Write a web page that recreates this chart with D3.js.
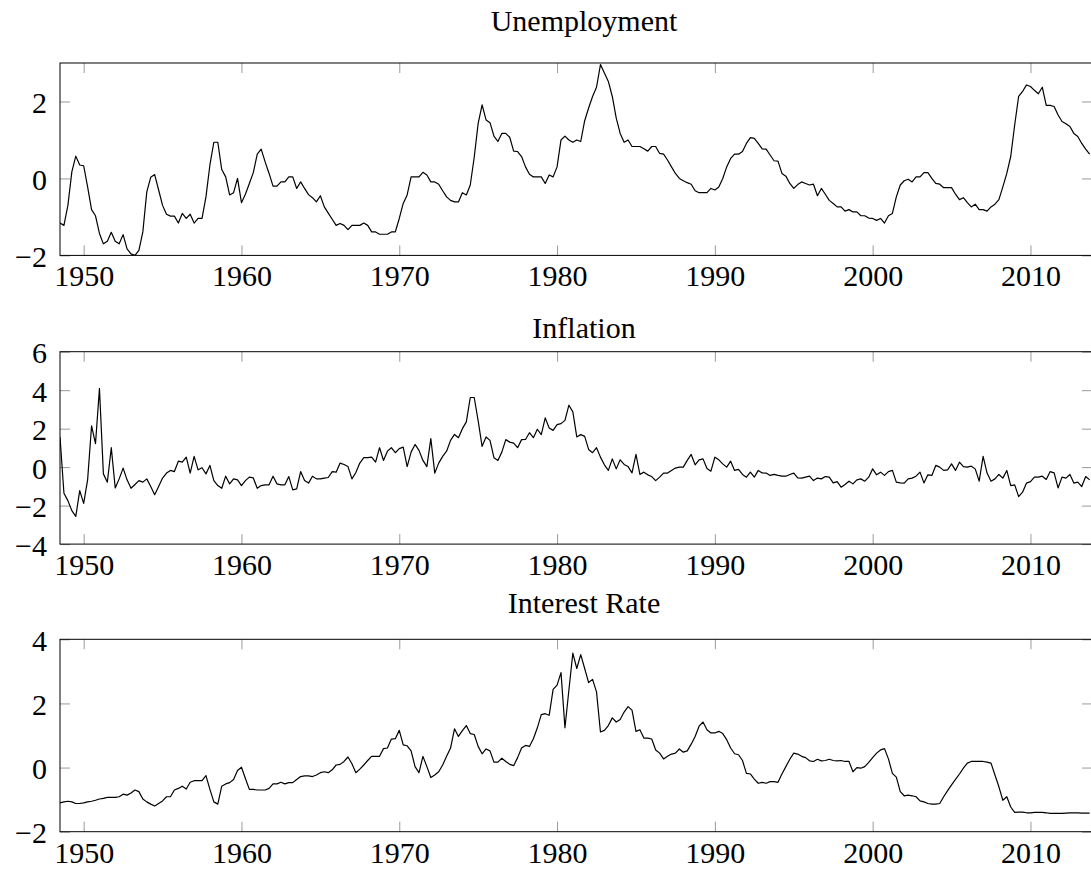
<!DOCTYPE html>
<html lang="en">
<head>
<meta charset="UTF-8">
<title>Unemployment, Inflation, Interest Rate</title>
<script src="https://d3js.org/d3.v7.min.js"></script>
<style>
  body { margin: 0; background: #fff; }
  svg { display: block; font-family: "Liberation Serif", "DejaVu Serif", serif; }
</style>
</head>
<body>
<div id="chart"></div>
<script>
// Quartalsdaten ab 1948.5 (Schritt 0.25 Jahre)
const startYear = 1948.5;

const unemployment = [
  -1.16, -1.22,
  -0.70, 0.17, 0.58, 0.35,
  0.33, -0.22, -0.81, -0.97,
  -1.43, -1.70, -1.63, -1.40,
  -1.63, -1.70, -1.46, -1.83,
  -1.96, -2.00, -1.87, -1.39,
  -0.35, 0.03, 0.10, -0.30,
  -0.70, -0.93, -0.98, -0.98,
  -1.16, -0.91, -1.04, -0.93,
  -1.16, -1.04, -1.04, -0.48,
  0.35, 0.94, 0.94, 0.23,
  0.04, -0.43, -0.37, 0.00,
  -0.63, -0.41, -0.13, 0.15,
  0.63, 0.76, 0.43, 0.13,
  -0.20, -0.20, -0.09, -0.09,
  0.04, 0.04, -0.26, -0.09,
  -0.26, -0.42, -0.50, -0.61,
  -0.45, -0.74, -0.90, -1.06,
  -1.22, -1.17, -1.22, -1.33,
  -1.22, -1.22, -1.22, -1.16,
  -1.22, -1.39, -1.39, -1.45,
  -1.45, -1.45, -1.39, -1.39,
  -1.04, -0.65, -0.43, 0.04,
  0.04, 0.04, 0.16, 0.09,
  -0.09, -0.09, -0.15, -0.32,
  -0.48, -0.57, -0.61, -0.61,
  -0.37, -0.43, -0.17, 0.55,
  1.43, 1.91, 1.52, 1.45,
  1.10, 0.96, 1.17, 1.17,
  1.07, 0.71, 0.70, 0.57,
  0.30, 0.11, 0.04, 0.04,
  0.04, -0.13, 0.09, 0.04,
  0.30, 1.00, 1.10, 1.00,
  0.94, 1.00, 0.96, 1.50,
  1.83, 2.13, 2.37, 2.96,
  2.74, 2.52, 2.13, 1.57,
  1.17, 0.94, 1.00, 0.83,
  0.83, 0.83, 0.77, 0.71,
  0.83, 0.83, 0.65, 0.63,
  0.48, 0.30, 0.13, 0.00,
  -0.06, -0.11, -0.15, -0.32,
  -0.37, -0.37, -0.37, -0.26,
  -0.30, -0.22, 0.00, 0.30,
  0.52, 0.63, 0.63, 0.70,
  0.91, 1.06, 1.04, 0.91,
  0.77, 0.76, 0.61, 0.46,
  0.45, 0.13, 0.06, -0.13,
  -0.26, -0.16, -0.09, -0.13,
  -0.17, -0.15, -0.45, -0.26,
  -0.41, -0.57, -0.65, -0.74,
  -0.74, -0.85, -0.81, -0.87,
  -0.87, -0.97, -0.97, -1.03,
  -1.04, -1.09, -1.04, -1.16,
  -0.97, -0.91, -0.48, -0.17,
  -0.06, -0.02, -0.09, 0.04,
  0.04, 0.15, 0.15, 0.00,
  -0.13, -0.15, -0.24, -0.24,
  -0.24, -0.41, -0.55, -0.50,
  -0.63, -0.74, -0.67, -0.81,
  -0.81, -0.85, -0.74, -0.67,
  -0.55, -0.22, 0.13, 0.57,
  1.39, 2.13, 2.26, 2.43,
  2.39, 2.29, 2.20, 2.37,
  1.90, 1.90, 1.87, 1.65,
  1.48, 1.42, 1.35, 1.17,
  1.09, 0.91, 0.76, 0.63
];

const inflation = [
  1.57, -1.36,
  -1.74, -2.26, -2.56, -1.22,
  -1.88, -0.66, 2.14, 1.22,
  4.09, -0.35, -0.78, 1.01,
  -1.08, -0.61, -0.05, -0.66,
  -1.10, -0.90, -0.70, -0.78,
  -0.61, -1.01, -1.43, -1.01,
  -0.57, -0.31, -0.17, -0.23,
  0.31, 0.26, 0.52, -0.31,
  0.56, -0.14, -0.03, -0.35,
  0.09, -0.70, -0.96, -1.10,
  -0.47, -0.87, -0.61, -0.66,
  -0.96, -0.70, -0.52, -0.56,
  -1.10, -0.96, -0.92, -0.92,
  -0.47, -0.87, -0.92, -0.92,
  -0.49, -1.18, -1.13, -0.23,
  -0.70, -0.83, -0.47, -0.61,
  -0.61, -0.57, -0.54, -0.23,
  -0.26, 0.21, 0.14, 0.03,
  -0.61, -0.28, 0.21, 0.49,
  0.49, 0.52, 0.26, 1.01,
  0.35, 0.83, 1.01, 0.75,
  0.96, 1.04, 0.03, 0.78,
  1.18, 0.87, 0.35, 0.03,
  1.48, -0.31, 0.21, 0.56,
  0.83, 1.39, 1.70, 1.53,
  2.00, 2.35, 3.62, 3.62,
  2.40, 1.08, 1.57, 1.39,
  0.49, 0.35, 0.78, 1.43,
  1.30, 1.25, 1.01, 1.43,
  1.44, 1.79, 1.53, 1.97,
  1.69, 2.56, 2.03, 1.91,
  2.21, 2.26, 2.43, 3.22,
  2.87, 1.57, 1.69, 1.60,
  0.92, 0.75, 1.01, 0.52,
  0.12, -0.17, 0.43, -0.09,
  0.38, 0.14, 0.03, -0.30,
  0.66, -0.38, -0.26, -0.40,
  -0.49, -0.70, -0.52, -0.31,
  -0.31, -0.17, -0.05, 0.00,
  0.00, 0.35, 0.66, 0.12,
  0.38, 0.43, -0.07, -0.21,
  0.52, 0.38, 0.17, 0.00,
  0.31, -0.17, -0.12, -0.38,
  -0.52, -0.26, -0.52, -0.17,
  -0.30, -0.31, -0.43, -0.38,
  -0.43, -0.47, -0.47, -0.38,
  -0.31, -0.56, -0.57, -0.52,
  -0.47, -0.70, -0.57, -0.61,
  -0.49, -0.52, -0.82, -0.75,
  -1.04, -0.90, -0.73, -0.87,
  -0.66, -0.61, -0.73, -0.52,
  -0.09, -0.40, -0.26, -0.43,
  -0.23, -0.17, -0.78, -0.82,
  -0.83, -0.61, -0.57, -0.47,
  -0.26, -0.82, -0.40, -0.43,
  0.09, 0.00, -0.17, -0.14,
  0.17, -0.17, 0.26, 0.03,
  0.00, 0.05, -0.09, -0.73,
  0.56, -0.31, -0.73, -0.61,
  -0.38, -0.57, -0.17, -0.96,
  -0.92, -1.53, -1.30, -0.83,
  -0.75, -0.52, -0.52, -0.47,
  -0.64, -0.23, -0.30, -1.08,
  -0.52, -0.57, -0.38, -0.83,
  -0.78, -1.01, -0.49, -0.66
];

const interestRate = [
  -1.10, -1.07,
  -1.05, -1.07, -1.12, -1.12,
  -1.10, -1.07, -1.05, -1.02,
  -0.98, -0.96, -0.93, -0.93,
  -0.93, -0.91, -0.83, -0.86,
  -0.79, -0.70, -0.75, -0.98,
  -1.07, -1.14, -1.20, -1.12,
  -1.04, -0.91, -0.91, -0.70,
  -0.65, -0.58, -0.67, -0.46,
  -0.41, -0.41, -0.41, -0.25,
  -0.68, -1.07, -1.14, -0.58,
  -0.51, -0.47, -0.37, -0.09,
  0.01, -0.34, -0.68, -0.68,
  -0.70, -0.70, -0.70, -0.65,
  -0.51, -0.51, -0.46, -0.51,
  -0.47, -0.47, -0.37, -0.28,
  -0.26, -0.26, -0.28, -0.23,
  -0.16, -0.13, -0.16, -0.07,
  0.08, 0.10, 0.19, 0.33,
  0.12, -0.16, -0.05, 0.08,
  0.22, 0.35, 0.35, 0.35,
  0.59, 0.61, 0.89, 0.90,
  1.16, 0.71, 0.68, 0.52,
  0.03, -0.16, 0.35, 0.03,
  -0.31, -0.23, -0.13, 0.08,
  0.35, 0.61, 1.21, 0.97,
  1.15, 1.31, 1.06, 1.03,
  0.66, 0.43, 0.58, 0.52,
  0.17, 0.17, 0.29, 0.19,
  0.10, 0.06, 0.31, 0.61,
  0.69, 0.66, 0.90, 1.24,
  1.65, 1.68, 1.63, 2.44,
  2.57, 2.96, 1.24, 2.42,
  3.57, 3.09, 3.52, 3.09,
  2.65, 2.75, 2.36, 1.11,
  1.16, 1.31, 1.55, 1.42,
  1.50, 1.73, 1.90, 1.79,
  1.13, 1.18, 0.92, 0.92,
  0.89, 0.55, 0.45, 0.27,
  0.35, 0.42, 0.45, 0.58,
  0.48, 0.52, 0.73, 0.97,
  1.29, 1.42, 1.18, 1.08,
  1.08, 1.13, 1.06, 0.87,
  0.61, 0.43, 0.40, 0.22,
  -0.18, -0.20, -0.36, -0.49,
  -0.46, -0.49, -0.44, -0.44,
  -0.46, -0.20, 0.03, 0.26,
  0.45, 0.42, 0.35, 0.31,
  0.21, 0.19, 0.26, 0.21,
  0.22, 0.26, 0.22, 0.21,
  0.22, 0.19, 0.19, -0.13,
  0.00, -0.02, 0.03, 0.16,
  0.31, 0.45, 0.55, 0.59,
  0.27, -0.18, -0.30, -0.75,
  -0.88, -0.86, -0.88, -0.91,
  -1.04, -1.07, -1.12, -1.14,
  -1.14, -1.12, -0.91, -0.72,
  -0.54, -0.37, -0.20, -0.02,
  0.14, 0.19, 0.19, 0.19,
  0.19, 0.17, 0.14, -0.23,
  -0.60, -1.02, -0.91, -1.23,
  -1.40, -1.39, -1.39, -1.41,
  -1.41, -1.40, -1.40, -1.40,
  -1.41, -1.43, -1.43, -1.43,
  -1.43, -1.42, -1.41, -1.41,
  -1.41, -1.42, -1.42, -1.42
];

const panelTitles = ['Unemployment', 'Inflation', 'Interest Rate'];
const xTicks = [1950, 1960, 1970, 1980, 1990, 2000, 2010];
const yDomains = [[-2, 3], [-4, 6], [-2, 4]];
const yTicks = [[-2, 0, 2], [-4, -2, 0, 2, 4, 6], [-2, 0, 2, 4]];

// Layout
const width = 1091;
const height = 870;
const left = 60;
const right = 1092;
const panelTop = [63, 351.7, 639.3];
const panelHeight = 192.4;
const titleY = [30.7, 338, 613.3];
const titleX = 584;
const tickLen = 10;

const svg = d3.select('#chart')
    .append('svg')
    .attr('width', width)
    .attr('height', height);

const x = d3.scaleLinear()
    .domain([1948.5, 2013.9])
    .range([left, right]);

const series = [unemployment, inflation, interestRate];

series.forEach((values, p) => {
    const top = panelTop[p];
    const bottom = top + panelHeight;
    const data = values.map((v, i) => ({ year: startYear + i / 4, value: v }));

    const y = d3.scaleLinear()
        .domain(yDomains[p])
        .range([bottom, top]);

    const g = svg.append('g');

    g.append('clipPath')
        .attr('id', 'clip' + p)
        .append('rect')
        .attr('x', left)
        .attr('y', top)
        .attr('width', right - left)
        .attr('height', panelHeight);

    // Achsen mit nach innen zeigenden Ticks
    const xBottom = g.append('g')
        .attr('transform', `translate(0,${bottom})`)
        .call(d3.axisBottom(x).tickValues(xTicks).tickSize(-tickLen)
            .tickPadding(9.7).tickFormat(d3.format('d')));
    const xTop = g.append('g')
        .attr('transform', `translate(0,${top})`)
        .call(d3.axisTop(x).tickValues(xTicks).tickSize(-tickLen).tickFormat(''));
    const yLeft = g.append('g')
        .attr('transform', `translate(${left},0)`)
        .call(d3.axisLeft(y).tickValues(yTicks[p]).tickSize(-tickLen)
            .tickPadding(13).tickFormat(d3.format('d')));
    const yRight = g.append('g')
        .attr('transform', `translate(${right},0)`)
        .call(d3.axisRight(y).tickValues(yTicks[p]).tickSize(-tickLen).tickFormat(''));

    [xBottom, xTop, yLeft, yRight].forEach(a => {
        a.select('.domain').remove();
        a.selectAll('line').attr('stroke', '#9a9a9a').attr('stroke-width', 1);
        a.selectAll('text')
            .attr('fill', '#000')
            .style('font-family', '"Liberation Serif", "DejaVu Serif", serif')
            .style('font-size', '30px');
    });
    yLeft.selectAll('text').attr('dy', null).attr('y', 11);

    g.append('path')
        .datum(data)
        .attr('clip-path', `url(#clip${p})`)
        .attr('fill', 'none')
        .attr('stroke', '#000')
        .attr('stroke-width', 1.2)
        .attr('stroke-linejoin', 'round')
        .attr('d', d3.line().x(d => x(d.year)).y(d => y(d.value)));

    g.append('rect')
        .attr('x', left)
        .attr('y', top)
        .attr('width', right - left)
        .attr('height', panelHeight)
        .attr('fill', 'none')
        .attr('stroke', '#000')
        .attr('stroke-width', 1);

    g.append('text')
        .attr('x', titleX)
        .attr('y', titleY[p])
        .attr('text-anchor', 'middle')
        .style('font-size', '30px')
        .text(panelTitles[p]);
});
</script>
</body>
</html>
